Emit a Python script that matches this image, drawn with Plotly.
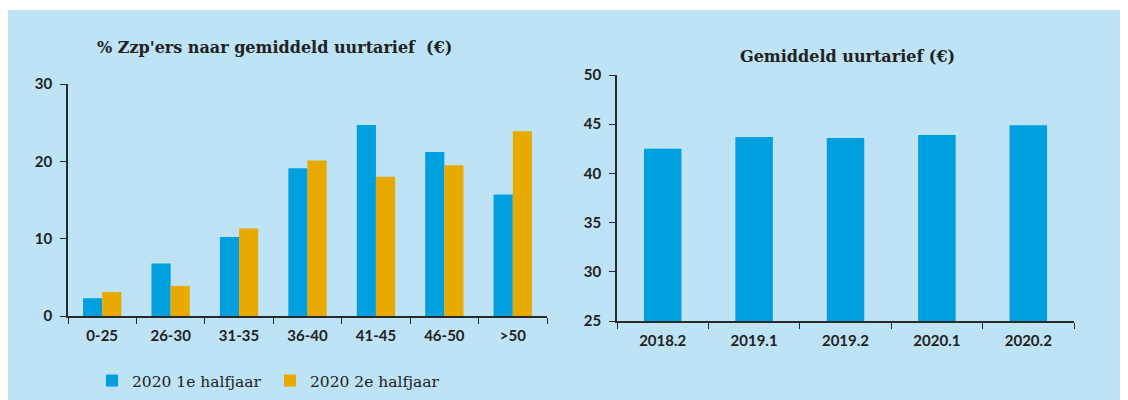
import plotly.graph_objects as go

# Left chart data
categories_left = ["0-25", "26-30", "31-35", "36-40", "41-45", "46-50", ">50"]
h1_2020 = [2.3, 6.8, 10.2, 19.1, 24.7, 21.2, 15.7]
h2_2020 = [3.1, 3.9, 11.3, 20.1, 18.0, 19.5, 23.9]
series_names = ["2020 1e halfjaar", "2020 2e halfjaar"]

# Right chart data
periods = ["2018.2", "2019.1", "2019.2", "2020.1", "2020.2"]
avg_rate = [42.5, 43.7, 43.6, 43.9, 44.9]

left_ticks = [0, 10, 20, 30]
right_ticks = [25, 30, 35, 40, 45, 50]

BLUE = "#009fe0"
GOLD = "#e8aa00"
BG = "#bde3f5"
AX = "#2a2a2a"

# the page body has an 8px margin; figure fills the rest of the window
OFF = 8
W, H = 1128 - OFF, 400 - OFF


def px(x):
    return (x - OFF) / W


def py(y):
    return (H - (y - OFF)) / H


tick_font = dict(family="Lato", size=15, color="#222222", weight="bold")
serif = "DejaVu Serif"

fig = go.Figure()
fig.add_trace(go.Bar(x=categories_left, y=h1_2020, name=series_names[0],
                     marker=dict(color=BLUE, line=dict(width=0)),
                     xaxis="x", yaxis="y"))
fig.add_trace(go.Bar(x=categories_left, y=h2_2020, name=series_names[1],
                     marker=dict(color=GOLD, line=dict(width=0)),
                     xaxis="x", yaxis="y"))
fig.add_trace(go.Bar(x=periods, y=avg_rate, name="Gemiddeld uurtarief",
                     marker=dict(color=BLUE, line=dict(width=0)),
                     xaxis="x2", yaxis="y2", showlegend=False, width=0.41))

axis_common = dict(showgrid=False, zeroline=False, showline=True, linecolor=AX,
                   linewidth=1.8, ticks="outside", tickcolor=AX, ticklen=6,
                   tickwidth=1.4, tickfont=tick_font, fixedrange=True,
                   automargin=False)

fig.update_layout(
    template="none",
    width=W, height=H,
    margin=dict(l=0, r=0, t=0, b=0, autoexpand=False),
    paper_bgcolor="white",
    plot_bgcolor="rgba(0,0,0,0)",
    barmode="group",
    bargap=0.44,
    bargroupgap=0,
    showlegend=True,
    legend=dict(orientation="h", x=px(92), xanchor="left", y=py(381),
                yanchor="middle", bgcolor="rgba(0,0,0,0)",
                font=dict(family=serif, size=15.5, color="#222222"),
                entrywidth=133, entrywidthmode="pixels",
                itemclick=False, itemdoubleclick=False),
    xaxis=dict(domain=[px(68), px(547)], anchor="y", type="category",
               tickson="boundaries", ticklabelstandoff=5, **axis_common),
    yaxis=dict(domain=[py(316), py(84)], anchor="x", range=[0, 30],
               tickvals=left_ticks, ticklabelstandoff=5, **axis_common),
    xaxis2=dict(domain=[px(617), px(1074)], anchor="y2", type="category",
                tickson="boundaries", ticklabelstandoff=5, **axis_common),
    yaxis2=dict(domain=[py(321), py(75)], anchor="x2", range=[25, 50],
                tickvals=right_ticks, ticklabelstandoff=5, **axis_common),
    shapes=[dict(type="rect", xref="paper", yref="paper", x0=0, x1=1,
                 y0=0, y1=py(10), fillcolor=BG, line=dict(width=0),
                 layer="below")],
    annotations=[
        dict(text="% Zzp'ers naar gemiddeld uurtarief  (€)", xref="paper",
             yref="paper", x=px(274), y=py(47), xanchor="center",
             yanchor="middle", showarrow=False,
             font=dict(family=serif, size=16, color="#222222", weight="bold")),
        dict(text="Gemiddeld uurtarief (€)", xref="paper", yref="paper",
             x=px(847), y=py(56), xanchor="center", yanchor="middle",
             showarrow=False,
             font=dict(family=serif, size=16, color="#222222", weight="bold")),
    ],
)

fig.write_html("out.html")
